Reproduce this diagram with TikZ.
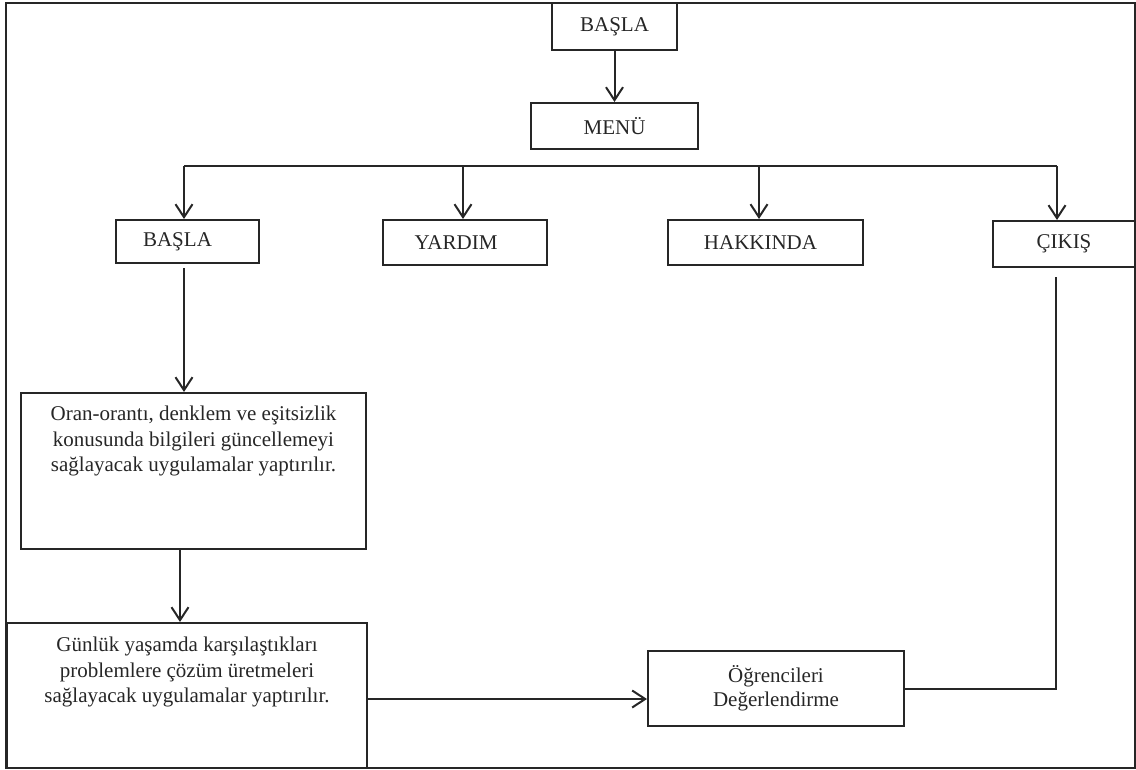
\documentclass[tikz,border=0pt]{standalone}
\usepackage{fontspec}
\setmainfont{Liberation Serif}
\usetikzlibrary{arrows.meta}
\definecolor{ink}{HTML}{262626}
\begin{document}
\begin{tikzpicture}[x=1pt,y=-1pt,
  conn/.style={draw=ink, line width=2pt},
  arr/.style={conn, -{Straight Barb[length=13pt,width=17pt]}},
  box/.style={draw=ink, line width=2pt, rectangle, inner sep=0pt,
    font=\fontsize{21}{26}\selectfont, text=ink, align=center},
  txt/.style={inner sep=0pt, font=\fontsize{21}{25.5}\selectfont,
    text=ink, align=center, anchor=north}]
\useasboundingbox (0,0) rectangle (1136,769);

% outer frame
\draw[conn] (6,3) rectangle (1135,768);

% top of the menu
\node[box, minimum width=125, minimum height=47] (start) at (614.5,26.5) {BAŞLA};
\node[box, minimum width=167, minimum height=46] (menu) at (614.5,126) {MENÜ};

% menu entries
\node[box, minimum width=143, minimum height=43] (basla) at (187.5,241.5) {\hspace*{-20pt}BAŞLA};
\node[box, minimum width=164, minimum height=45] (yardim) at (465,242.5) {\hspace*{-18pt}YARDIM};
\node[box, minimum width=195, minimum height=45] (hakkinda) at (765.5,242.5) {\hspace*{-10pt}HAKKINDA};
\node[box, minimum width=142, minimum height=46] (cikis) at (1064,244) {ÇIKIŞ};

% activity boxes
\node[box, minimum width=345, minimum height=156] (oran) at (193.5,471) {};
\node[txt] (orantext) at (193.5,406) {Oran-orantı, denklem ve eşitsizlik\\konusunda bilgileri güncellemeyi\\sağlayacak uygulamalar yaptırılır.};
\node[box, minimum width=360, minimum height=145] (gunluk) at (187,695.5) {};
\node[txt] (gunluktext) at (187,637) {Günlük yaşamda karşılaştıkları\\problemlere çözüm üretmeleri\\sağlayacak uygulamalar yaptırılır.};
\node[box, minimum width=256, minimum height=75, font=\fontsize{21}{24}\selectfont] (ogr) at (776,688.5) {Öğrencileri\\Değerlendirme};

% connectors
\draw[arr] (start) -- (menu);

\coordinate (b1) at (184,166);
\coordinate (b2) at (463,166);
\coordinate (b3) at (759,166);
\coordinate (b4) at (1057,166);
\draw[conn] (b1) -- (b4);
\draw[arr] (b1) -- (b1 |- basla.north);
\draw[arr] (b2) -- (b2 |- yardim.north);
\draw[arr] (b3) -- (b3 |- hakkinda.north);
\draw[arr] (b4) -- (b4 |- cikis.north);

\coordinate (bs) at (184,268);
\draw[arr] (bs) -- (bs |- oran.north);
\coordinate (os) at (180,549);
\draw[arr] (os |- oran.south) -- (os |- gunluk.north);

\coordinate (g2o) at (0,699);
\draw[arr] (gunluk.east |- g2o) -- (ogr.west |- g2o);

\coordinate (ret) at (1056,277);
\draw[conn] (ogr.east) -| (ret);
\end{tikzpicture}
\end{document}
